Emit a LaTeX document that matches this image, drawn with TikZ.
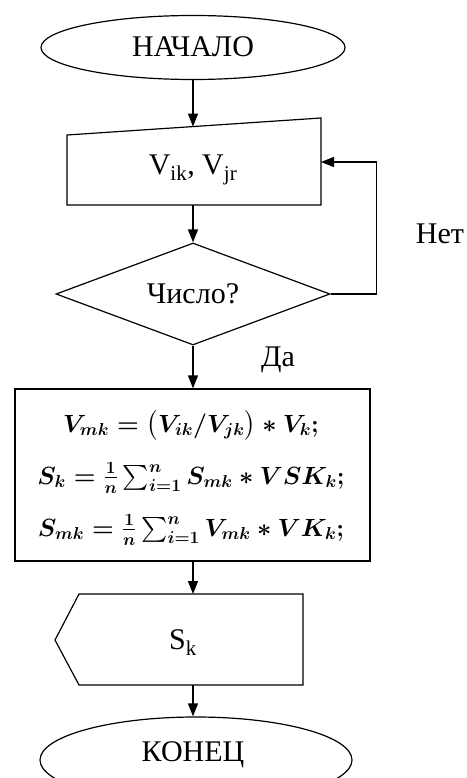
\documentclass[tikz,border=0pt]{standalone}
\usepackage{amsmath}
\usepackage{exscale}
\usepackage{fontspec}
\setmainfont{Liberation Serif}
\usetikzlibrary{shapes.geometric,arrows.meta}
\begin{document}
\begin{tikzpicture}[x=1pt,y=-1pt,line width=1.2pt,
  big/.style={font=\fontsize{30}{36}\selectfont},
  term/.style={ellipse,draw,inner sep=0pt},
  lbl/.style={big,inner sep=0pt},
  fml/.style={inner sep=0pt,anchor=base,font=\fontsize{27}{31}\selectfont\boldmath},
  arr/.style={-{Triangle[length=13pt,width=10pt]}}]
\useasboundingbox (0,0) rectangle (466,778);
% start
\node[term,minimum width=304pt,minimum height=64pt] (start) at (193,47.5) {};
\node[lbl] (startlbl) at (193,47) {НАЧАЛО};
% manual input
\coordinate (inTL) at (67,135);
\coordinate (inTR) at (321,118);
\coordinate (inBR) at (321,205);
\coordinate (inBL) at (67,205);
\draw (inTL) -- (inTR) -- (inBR) -- (inBL) -- cycle;
\coordinate (inTop) at (193,126.6);
\coordinate (inBot) at (193,205);
\coordinate (inRight) at (321,162);
\node[lbl] (input) at (193,170) {V\textsubscript{ik}, V\textsubscript{jr}};
% decision
\node[diamond,draw,shape aspect=2.69,minimum width=274pt,minimum height=102pt,inner sep=0pt,big] (cond) at (193,294) {Число?};
% calc
\node[draw,minimum width=355pt,minimum height=172pt,inner sep=0pt] (calc) at (192.5,475) {};
\node[fml] (f1) at (191,432) {$V_{mk} = \bigl(V_{ik}/V_{jk}\bigr) * V_k;$};
\node[fml] (f2) at (191,484) {$\textstyle S_k = \frac{1}{n}\sum_{i=1}^{n} S_{mk} * VSK_k;$};
\node[fml] (f3) at (191,536) {$\textstyle S_{mk} = \frac{1}{n}\sum_{i=1}^{n} V_{mk} * VK_k;$};
% display
\coordinate (dL) at (55,640);
\coordinate (dTL) at (79,594);
\coordinate (dTR) at (303,594);
\coordinate (dBR) at (303,685);
\coordinate (dBL) at (79,685);
\draw (dL) -- (dTL) -- (dTR) -- (dBR) -- (dBL) -- cycle;
\coordinate (dTop) at (193,594);
\coordinate (dBot) at (193,685);
\node[lbl] (out) at (183,643) {S\textsubscript{k}};
% end
\node[term,minimum width=312pt,minimum height=86pt] (end) at (196,760) {};
\node[lbl] (endlbl) at (193,755) {КОНЕЦ};
% labels
\node[lbl] (yes) at (278,360) {Да};
\node[lbl] (no) at (440,234) {Нет};
% connectors
\draw[arr] (start.south) -- (inTop);
\draw[arr] (inBot) -- (cond.north);
\draw[arr] (cond.east) -- ++(46,0) |- (inRight);
\draw[arr] (cond.south) -- (cond.south |- calc.north);
\draw[arr] (dTop |- calc.south) -- (dTop);
\draw[arr] (dBot) -- (dBot |- end.north);
\end{tikzpicture}
\end{document}
